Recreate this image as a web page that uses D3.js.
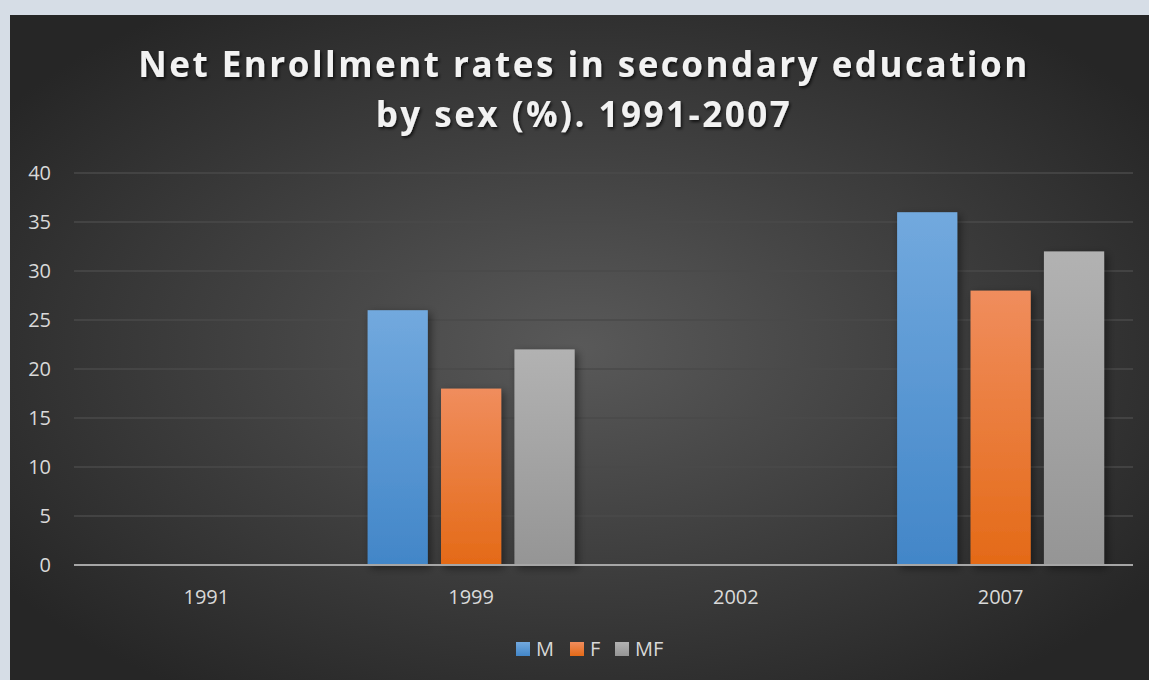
<!DOCTYPE html>
<html>
<head>
<meta charset="utf-8">
<script src="https://cdn.jsdelivr.net/npm/d3@7"></script>
<style>
  body { margin: 0; background: #d6dde6; }
  svg { display: block; }
  text { font-family: "Open Sans", "Noto Sans", sans-serif; }
</style>
</head>
<body>
<svg id="chart" width="1149" height="680"></svg>
<script>
const years = ["1991", "1999", "2002", "2007"];
const seriesNames = ["M", "F", "MF"];
const valuesM = [null, 26, null, 36];
const valuesF = [null, 18, null, 28];
const valuesMF = [null, 22, null, 32];
const yTicks = [0, 5, 10, 15, 20, 25, 30, 35, 40];
const titleLines = ["Net Enrollment rates in secondary education", "by sex (%). 1991-2007"];

const colors = {
  M: ["#72a9de", "#4286c8"],
  F: ["#f08d5d", "#e46a17"],
  MF: ["#b2b2b2", "#959595"]
};

const svg = d3.select("#chart");
const defs = svg.append("defs");

// panel background
const bg = defs.append("radialGradient").attr("id", "bg")
  .attr("cx", "50%").attr("cy", "50%").attr("r", "62%");
bg.append("stop").attr("offset", "0%").attr("stop-color", "#595959");
bg.append("stop").attr("offset", "100%").attr("stop-color", "#262626");

seriesNames.forEach(s => {
  const g = defs.append("linearGradient").attr("id", "grad" + s)
    .attr("x1", 0).attr("y1", 0).attr("x2", 0).attr("y2", 1);
  g.append("stop").attr("offset", "0%").attr("stop-color", colors[s][0]);
  g.append("stop").attr("offset", "100%").attr("stop-color", colors[s][1]);
});

const shadow = defs.append("filter").attr("id", "shadow")
  .attr("x", "-30%").attr("y", "-10%").attr("width", "160%").attr("height", "130%");
shadow.append("feDropShadow").attr("dx", 3).attr("dy", 3).attr("stdDeviation", 4)
  .attr("flood-color", "#000").attr("flood-opacity", 0.45);

const tshadow = defs.append("filter").attr("id", "tshadow");
tshadow.append("feDropShadow").attr("dx", 1.5).attr("dy", 2).attr("stdDeviation", 1.5)
  .attr("flood-color", "#000").attr("flood-opacity", 0.7);

svg.append("rect").attr("x", 10).attr("y", 15).attr("width", 1139).attr("height", 665)
  .attr("fill", "url(#bg)");

// title
svg.append("g").attr("filter", "url(#tshadow)")
  .selectAll("text").data(titleLines).join("text")
  .attr("x", 584).attr("y", (d, i) => 77 + i * 50)
  .attr("text-anchor", "middle")
  .attr("fill", "#f2f2f2")
  .attr("font-size", 35).attr("font-weight", 700)
  .attr("letter-spacing", 2.5)
  .text(d => d);

const margin = {left: 74, right: 1133, top: 173, bottom: 565};

const y = d3.scaleLinear().domain([0, 40]).range([margin.bottom, margin.top]);
const x0 = d3.scaleBand().domain(years).range([margin.left, margin.right])
  .paddingInner(0.218).paddingOuter(0.109);
const x1 = d3.scaleBand().domain(seriesNames).range([0, x0.bandwidth()]).paddingInner(0.18);

// gridlines
svg.append("g").selectAll("line").data(yTicks.filter(t => t > 0)).join("line")
  .attr("x1", margin.left).attr("x2", margin.right)
  .attr("y1", d => y(d)).attr("y2", d => y(d))
  .attr("stroke", "#4a4a4a").attr("stroke-width", 1.5);

// y labels
const yAxis = svg.append("g").attr("transform", `translate(${margin.left - 23},0)`)
  .call(d3.axisLeft(y).tickValues(yTicks).tickSize(0).tickPadding(0));
yAxis.select(".domain").remove();
yAxis.selectAll("text").attr("fill", "#d9d9d9").attr("font-size", 20)
  .attr("font-family", '"Open Sans", sans-serif');

// bars
const rows = years.map((yr, i) => ({
  year: yr,
  vals: [["M", valuesM[i]], ["F", valuesF[i]], ["MF", valuesMF[i]]]
}));

const bandOuter = d3.scaleBand().domain(years).range([margin.left, margin.right]);

svg.append("g").selectAll("g").data(rows).join("g")
  .attr("transform", d => `translate(${x0(d.year)},0)`)
  .selectAll("rect").data(d => d.vals.filter(v => v[1] != null)).join("rect")
  .attr("x", d => x1(d[0]))
  .attr("width", x1.bandwidth())
  .attr("y", d => y(d[1]))
  .attr("height", d => y(0) - y(d[1]))
  .attr("fill", d => "url(#grad" + d[0] + ")")
  .attr("filter", "url(#shadow)");

// zero line
svg.append("line")
  .attr("x1", margin.left).attr("x2", margin.right)
  .attr("y1", y(0)).attr("y2", y(0))
  .attr("stroke", "#a6a6a6").attr("stroke-width", 2);

// x labels
const xAxis = svg.append("g").attr("transform", `translate(0,${margin.bottom + 32})`)
  .call(d3.axisBottom(bandOuter).tickSize(0).tickPadding(0));
xAxis.select(".domain").remove();
xAxis.selectAll("text").attr("fill", "#d9d9d9").attr("font-size", 20)
  .attr("font-family", '"Open Sans", sans-serif').attr("dy", "0.35em");

// legend
const legendX = [516, 570, 615];
const legend = svg.append("g").selectAll("g").data(seriesNames).join("g")
  .attr("transform", (d, i) => `translate(${legendX[i]},642)`);
legend.append("rect").attr("width", 14).attr("height", 14)
  .attr("fill", d => "url(#grad" + d + ")");
legend.append("text").attr("x", 20).attr("y", 7).attr("dy", "0.35em")
  .attr("fill", "#d9d9d9").attr("font-size", 20).text(d => d);
</script>
</body>
</html>
